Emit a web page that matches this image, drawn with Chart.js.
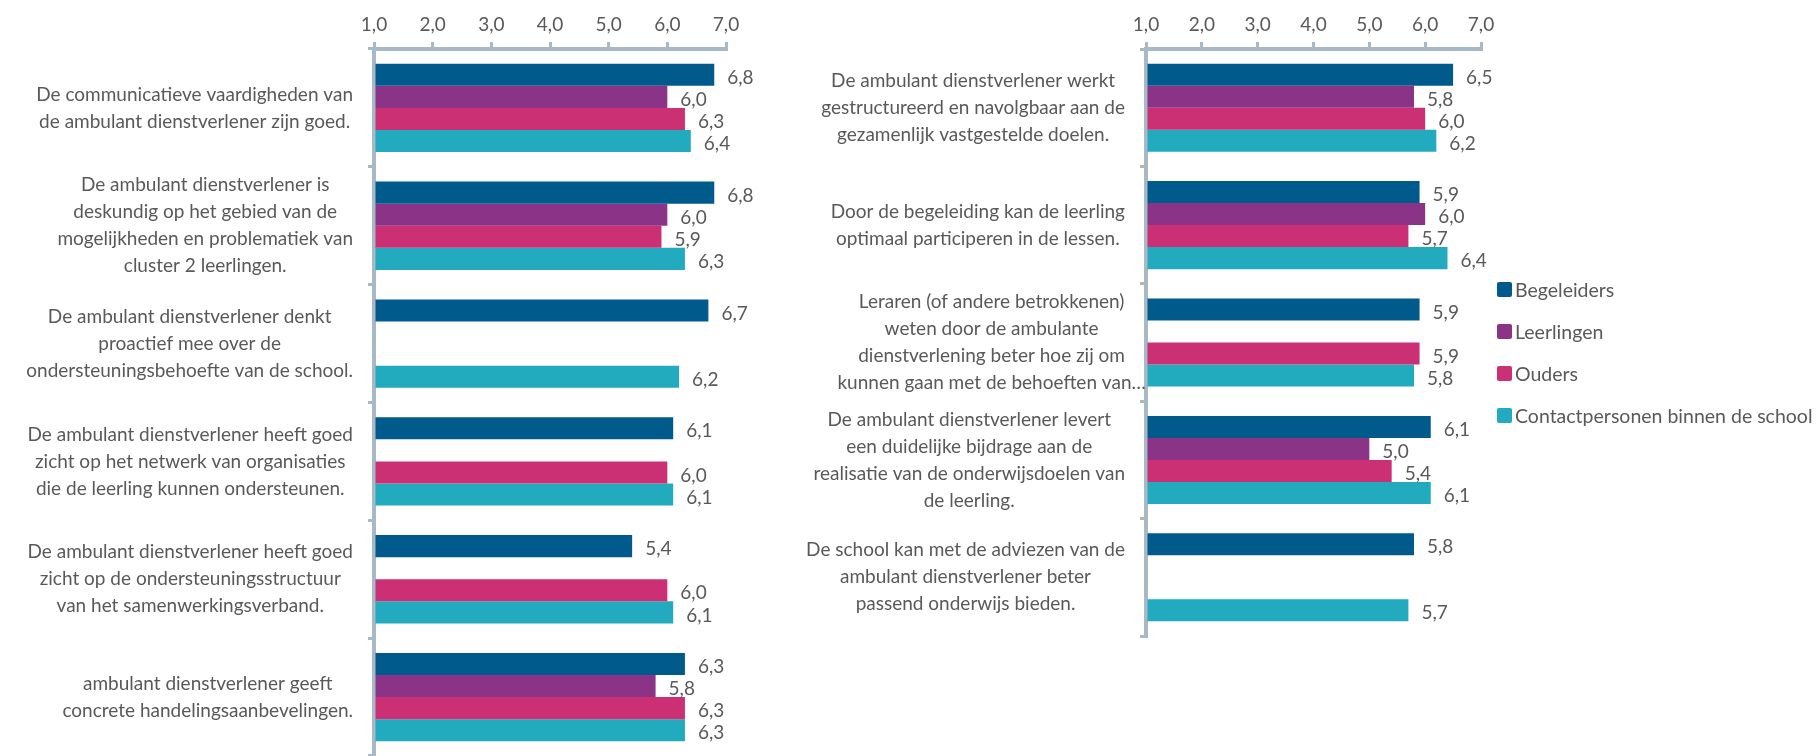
<!DOCTYPE html>
<html>
<head>
<meta charset="utf-8">
<script src="https://cdn.jsdelivr.net/npm/chart.js@4.4.1/dist/chart.umd.min.js"></script>
<style>
  html, body { margin: 0; padding: 0; background: #fff; }
  body { width: 1819px; height: 756px; position: relative; overflow: hidden; font-family: Lato, sans-serif; }
  #left { position: absolute; left: 0; top: 0; }
  #right { position: absolute; left: 760px; top: 0; }
  #legend { position: absolute; left: 1497px; top: 268px; color: #595959; font-size: 19.5px; }
  .item { height: 42px; display: flex; align-items: center; white-space: nowrap; }
  .box { width: 15px; height: 15px; border-radius: 2px; margin-right: 3px; }
</style>
</head>
<body>
<canvas id="left" width="790" height="756"></canvas>
<canvas id="right" width="760" height="756"></canvas>
<div id="legend"></div>
<script>
const seriesNames = ['Begeleiders', 'Leerlingen', 'Ouders', 'Contactpersonen binnen de school'];
const seriesColors = ['#005A8C', '#8B3386', '#CB2F74', '#22AABE'];
const xTicks = [1, 2, 3, 4, 5, 6, 7];

const leftCategories = [
  ['De communicatieve vaardigheden van', 'de ambulant dienstverlener zijn goed.'],
  ['De ambulant dienstverlener is', 'deskundig op het gebied van de', 'mogelijkheden en problematiek van', 'cluster 2 leerlingen.'],
  ['De ambulant dienstverlener denkt', 'proactief mee over de', 'ondersteuningsbehoefte van de school.'],
  ['De ambulant dienstverlener heeft goed', 'zicht op het netwerk van organisaties', 'die de leerling kunnen ondersteunen.'],
  ['De ambulant dienstverlener heeft goed', 'zicht op de ondersteuningsstructuur', 'van het samenwerkingsverband.'],
  ['ambulant dienstverlener geeft', 'concrete handelingsaanbevelingen.']
];
const leftBegeleiders = [6.8, 6.8, 6.7, 6.1, 5.4, 6.3];
const leftLeerlingen = [6.0, 6.0, null, null, null, 5.8];
const leftOuders = [6.3, 5.9, null, 6.0, 6.0, 6.3];
const leftContact = [6.4, 6.3, 6.2, 6.1, 6.1, 6.3];

const rightCategories = [
  ['De ambulant dienstverlener werkt', 'gestructureerd en navolgbaar aan de', 'gezamenlijk vastgestelde doelen.'],
  ['Door de begeleiding kan de leerling', 'optimaal participeren in de lessen.'],
  ['Leraren (of andere betrokkenen)', 'weten door de ambulante', 'dienstverlening beter hoe zij om', 'kunnen gaan met de behoeften van\u2026'],
  ['De ambulant dienstverlener levert', 'een duidelijke bijdrage aan de', 'realisatie van de onderwijsdoelen van', 'de leerling.'],
  ['De school kan met de adviezen van de', 'ambulant dienstverlener beter', 'passend onderwijs bieden.']
];
const rightBegeleiders = [6.5, 5.9, 5.9, 6.1, 5.8];
const rightLeerlingen = [5.8, 6.0, null, 5.0, null];
const rightOuders = [6.0, 5.7, 5.9, 5.4, null];
const rightContact = [6.2, 6.4, 5.8, 6.1, 5.7];

const textColor = '#595959';
const axisColor = '#A7B8C6';
const font = '19px Lato';
const fmt = v => v.toFixed(1).replace('.', ',');

const valueLabels = {
  id: 'valueLabels',
  afterDatasetsDraw(chart) {
    const ctx = chart.ctx;
    ctx.save();
    ctx.font = font;
    ctx.fillStyle = textColor;
    ctx.textBaseline = 'middle';
    chart.data.datasets.forEach((ds, i) => {
      chart.getDatasetMeta(i).data.forEach((bar, j) => {
        const v = ds.data[j];
        if (v == null) return;
        ctx.fillText(fmt(v), bar.x + 13, bar.y + 3);
      });
    });
    ctx.restore();
  }
};

// category text: lines centred inside a block that sits against the axis
const blockLabels = {
  id: 'blockLabels',
  afterDraw(chart) {
    const ctx = chart.ctx;
    const scale = chart.scales.y;
    const right = chart.chartArea.left - 21;
    ctx.save();
    ctx.font = font;
    ctx.fillStyle = textColor;
    ctx.textAlign = 'center';
    ctx.textBaseline = 'middle';
    chart.data.labels.forEach((lines, i) => {
      const w = Math.max(...lines.filter(l => !l.endsWith('\u2026')).map(l => ctx.measureText(l).width));
      const cx = right - w / 2;
      const cy = scale.getPixelForTick(i);
      lines.forEach((l, k) => ctx.fillText(l, cx, cy + (k - (lines.length - 1) / 2) * 27));
    });
    ctx.restore();
  }
};

function makeDatasets(b, l, o, c) {
  return [b, l, o, c].map((data, i) => ({
    label: seriesNames[i],
    data: data,
    backgroundColor: seriesColors[i],
    borderWidth: 0,
    base: 1,
    categoryPercentage: 0.75,
    barPercentage: 1.0
  }));
}

function makeChart(canvas, labels, datasets, axisLeft, padding) {
  return new Chart(canvas, {
    type: 'bar',
    data: { labels: labels, datasets: datasets },
    options: {
      responsive: false,
      animation: false,
      indexAxis: 'y',
      layout: { padding: padding },
      plugins: { legend: { display: false }, tooltip: { enabled: false } },
      scales: {
        x: {
          position: 'top',
          min: 1,
          max: 7,
          afterBuildTicks: s => { s.ticks = xTicks.map(v => ({ value: v })); },
          afterFit: s => { s.height = 49 - padding.top; },
          ticks: { color: textColor, font: { family: 'Lato', size: 19 }, padding: 6, callback: v => fmt(v) },
          grid: { drawOnChartArea: false, drawTicks: true, tickLength: 7, color: axisColor, lineWidth: 3 },
          border: { color: axisColor, width: 4 }
        },
        y: {
          afterFit: s => { s.width = axisLeft - padding.left; },
          ticks: { display: false },
          grid: { offset: true, drawOnChartArea: false, drawTicks: true, tickLength: 6, color: axisColor, lineWidth: 3 },
          border: { color: axisColor, width: 4 }
        }
      }
    },
    plugins: [valueLabels, blockLabels]
  });
}

makeChart(document.getElementById('left'), leftCategories,
  makeDatasets(leftBegeleiders, leftLeerlingen, leftOuders, leftContact),
  374, { top: 0, left: 0, right: 64, bottom: 0 });

makeChart(document.getElementById('right'), rightCategories,
  makeDatasets(rightBegeleiders, rightLeerlingen, rightOuders, rightContact),
  386, { top: 0, left: 0, right: 39, bottom: 120 });

const legend = document.getElementById('legend');
seriesNames.forEach((name, i) => {
  const item = document.createElement('div');
  item.className = 'item';
  item.innerHTML = '<span class="box" style="background:' + seriesColors[i] + '"></span>' + name;
  legend.appendChild(item);
});
</script>
</body>
</html>
